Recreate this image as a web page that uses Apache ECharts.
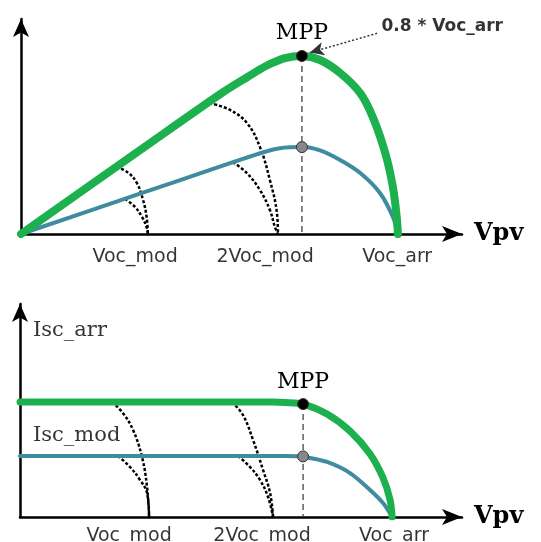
<!DOCTYPE html>
<html>
<head>
<meta charset="utf-8">
<script src="https://cdn.jsdelivr.net/npm/echarts@6/dist/echarts.min.js"></script>
<style>
html,body{margin:0;padding:0;background:#fff;}
#c{width:541px;height:542px;}
</style>
</head>
<body>
<div id="c"></div>
<script>
// ---------- data (x in units where Voc_arr ≈ 3, y in relative units) ----------
const tickLabels = ['Voc_mod', '2Voc_mod', 'Voc_arr'];
const topTickX = [0.908, 1.943, 2.994];
const bottomTickX = [0.866, 1.922, 2.97];

// P-V curves (top)
const pvArray = [[0,0],[1.0,39.5],[1.6,63],[1.8,70],[1.95,75],[2.1,78.5],[2.236,79.5],[2.38,77.7],[2.54,71.9],[2.7,62.9],[2.8,52.2],[2.9,36],[2.96,21],[2.99,8],[3.0,0]];
const pvModule = [[0,0],[1.0,19],[1.5,28.5],[1.7,32.3],[1.93,36.5],[2.06,38.3],[2.236,38.8],[2.38,37.3],[2.54,33.0],[2.7,27.2],[2.857,18.3],[2.96,7.6],[3.0,0]];
const pvDash1Outer = [[0.76,30],[0.85,27.5],[0.92,23],[0.97,15.5],[1.0,7.6],[1.01,0]];
const pvDash1Inner = [[0.828,15.7],[0.907,12.1],[0.963,7.6],[1.0,3.1],[1.01,0]];
const pvDash2Outer = [[1.5,58.5],[1.663,55.4],[1.798,49.6],[1.902,38.8],[1.981,24.1],[2.037,9.4],[2.045,0]];
const pvDash2Inner = [[1.687,32.1],[1.798,27.2],[1.902,19.6],[1.981,10.7],[2.021,3.1],[2.045,0]];
const pvMpp = [2.236, 79.5];
const pvMppModule = [2.236, 38.8];

// I-V curves (bottom)
const ivArray = [[0,51.8],[1.0,51.8],[2.01,51.8],[2.1,51.6],[2.248,50.9],[2.438,46.4],[2.621,38.7],[2.78,28.4],[2.883,17.6],[2.939,7.7],[2.955,0]];
const ivModule = [[0,27.5],[1.0,27.5],[2.1,27.5],[2.2,27.4],[2.248,27.2],[2.438,24.8],[2.621,19.8],[2.78,12.2],[2.883,6.3],[2.955,0]];
const ivDash1Outer = [[0.731,51.8],[0.818,46.8],[0.898,39.2],[0.969,27.0],[1.009,13.5],[1.025,0]];
const ivDash1Inner = [[0.778,27.5],[0.874,22.5],[0.953,16.7],[1.009,10.8],[1.025,0]];
const ivDash2Outer = [[1.684,51.8],[1.771,45.9],[1.851,34.7],[1.930,21.2],[1.986,10.8],[2.010,0]];
const ivDash2Inner = [[1.732,27.5],[1.827,22.5],[1.906,16.7],[1.970,9.0],[2.010,0]];
const ivMpp = [2.248, 50.9];
const ivMppModule = [2.248, 27.3];

// annotation anchors
const annotTop = { text: '0.8 * Voc_arr', at: [2.86, 92.5], from: [2.834, 89.6], to: [2.30, 81.0] };
const currentLabels = [{ text: 'Isc_arr', at: [0.103, 84.2] }, { text: 'Isc_mod', at: [0.103, 36.9] }];

// ---------- styles ----------
const GREEN = '#1cb04f', BLUE = '#3f8ba0';
const SERIF = '"DejaVu Serif", "Liberation Serif", serif';
const SANS = '"DejaVu Sans", "Liberation Sans", sans-serif';

function xAxisCfg(gi) {
  return {
    gridIndex: gi, type: 'value', min: 0, max: 3.51,
    axisLine: { show: true, onZero: true, symbol: ['none', 'arrow'], symbolSize: [12, 20],
      lineStyle: { color: '#000', width: 2.5 } },
    axisTick: { show: false }, axisLabel: { show: false }, splitLine: { show: false },
    name: 'Vpv', nameLocation: 'end', nameGap: 12,
    nameTextStyle: { fontFamily: SERIF, fontSize: 24, fontWeight: 'bold', color: '#000', padding: [6, 0, 0, 0] }
  };
}
function yAxisCfg(gi) {
  return {
    gridIndex: gi, type: 'value', min: 0, max: 96,
    axisLine: { show: true, onZero: true, symbol: ['none', 'arrow'], symbolSize: [12, 18],
      lineStyle: { color: '#000', width: 2.5 } },
    axisTick: { show: false }, axisLabel: { show: false }, splitLine: { show: false }
  };
}
function curve(gi, data, color, width, z) {
  return { type: 'line', xAxisIndex: gi, yAxisIndex: gi, data: data, showSymbol: false, symbol: 'none',
    smooth: 0.3, lineStyle: { color: color, width: width, cap: 'round', join: 'round' }, z: z, silent: true };
}
function dashCurve(gi, data) {
  return { type: 'line', xAxisIndex: gi, yAxisIndex: gi, data: data, showSymbol: false, symbol: 'none',
    smooth: 0.4, lineStyle: { color: '#000', width: 2.5, type: [3, 2] }, z: 4, silent: true };
}
function vline(gi, p) {
  return { type: 'line', xAxisIndex: gi, yAxisIndex: gi, data: [[p[0], p[1]], [p[0], 0]], showSymbol: false, symbol: 'none',
    lineStyle: { color: '#444', width: 1.3, type: [6, 4] }, z: 2, silent: true };
}
function dot(gi, p, fill, label, dist, extra) {
  const s = { type: 'scatter', xAxisIndex: gi, yAxisIndex: gi, data: [p], symbolSize: 11, z: 10, silent: true,
    itemStyle: { color: fill, borderColor: '#333', borderWidth: 1, opacity: 1 },
    label: { show: !!label, formatter: label || '', position: 'top', distance: dist,
      fontFamily: SERIF, fontSize: 22, color: '#000', opacity: 1 } };
  return Object.assign(s, extra || {});
}
function tickLabelSeries(gi, xs, dist) {
  return { type: 'scatter', xAxisIndex: gi, yAxisIndex: gi, symbolSize: 0.1, clip: false, silent: true, z: 11,
    itemStyle: { color: 'transparent' },
    data: xs.map((x, i) => ({ value: [x, 0], name: tickLabels[i] })),
    label: { show: true, position: 'bottom', distance: dist, formatter: p => p.name,
      fontFamily: SANS, fontSize: 19, color: '#000' } };
}

const option = {
  animation: false,
  backgroundColor: '#fff',
  grid: [
    { left: 21, top: 19, width: 441, height: 215 },
    { left: 20, top: 304, width: 442, height: 213 }
  ],
  xAxis: [xAxisCfg(0), xAxisCfg(1)],
  yAxis: [yAxisCfg(0), yAxisCfg(1)],
  series: [
    vline(0, pvMpp),
    curve(0, pvModule, BLUE, 4, 5),
    curve(0, pvArray, GREEN, 8, 6),
    dashCurve(0, pvDash1Outer), dashCurve(0, pvDash1Inner),
    dashCurve(0, pvDash2Outer), dashCurve(0, pvDash2Inner),
    dot(0, pvMppModule, '#888', '', 0),
    dot(0, pvMpp, '#000', 'MPP', 6, {
      markLine: { silent: true, symbol: ['none', 'arrow'], symbolSize: [10, 14],
        lineStyle: { color: '#333', width: 1.5, type: [2, 2] }, label: { show: false },
        data: [[{ coord: annotTop.from }, { coord: annotTop.to }]] }
    }),
    { type: 'scatter', xAxisIndex: 0, yAxisIndex: 0, symbolSize: 0.1, silent: true, z: 11,
      itemStyle: { color: 'transparent' },
      data: [{ value: annotTop.at, name: annotTop.text }],
      label: { show: true, position: 'right', distance: 1, formatter: p => p.name,
        fontFamily: SANS, fontSize: 17, fontWeight: 'bold', color: '#000' } },
    tickLabelSeries(0, topTickX, 14),

    vline(1, ivMpp),
    curve(1, ivModule, BLUE, 4, 5),
    curve(1, ivArray, GREEN, 7, 6),
    dashCurve(1, ivDash1Outer), dashCurve(1, ivDash1Inner),
    dashCurve(1, ivDash2Outer), dashCurve(1, ivDash2Inner),
    dot(1, ivMppModule, '#888', '', 0),
    dot(1, ivMpp, '#000', 'MPP', 5),
    { type: 'scatter', xAxisIndex: 1, yAxisIndex: 1, symbolSize: 0.1, silent: true, z: 11,
      itemStyle: { color: 'transparent' },
      data: currentLabels.map(d => ({ value: d.at, name: d.text })),
      label: { show: true, position: 'right', distance: 0, formatter: p => p.name,
        fontFamily: SERIF, fontSize: 21, color: '#000' } },
    tickLabelSeries(1, bottomTickX, 10)
  ]
};
const chart = echarts.init(document.getElementById('c'), null, { renderer: 'canvas' });
chart.setOption(option);
</script>
</body>
</html>
